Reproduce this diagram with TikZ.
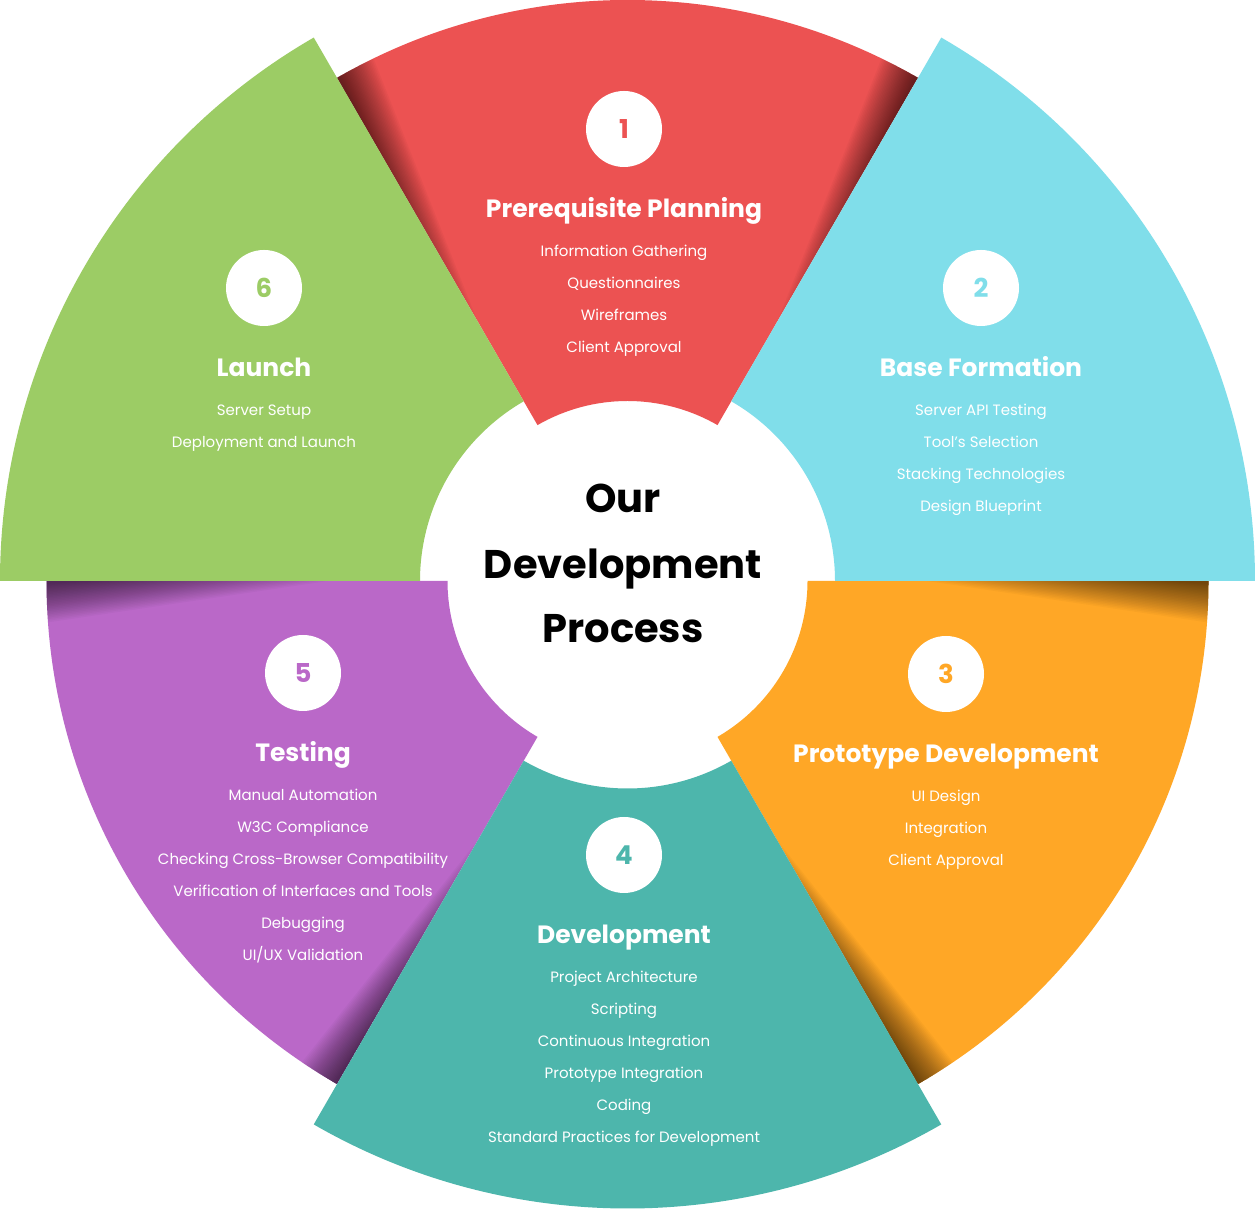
\documentclass[tikz,border=0pt]{standalone}
\usepackage{fontspec}
\setmainfont{Poppins}
\usetikzlibrary{calc}
\definecolor{cred}{HTML}{EC5252}
\definecolor{ccyan}{HTML}{80DEEA}
\definecolor{corange}{HTML}{FFA726}
\definecolor{cteal}{HTML}{4DB6AC}
\definecolor{cpurple}{HTML}{BA68C8}
\definecolor{cgreen}{HTML}{9CCC65}
\tikzset{
  numcirc/.style={circle, fill=white, minimum size=76pt, inner sep=0pt, font=\bfseries\fontsize{26}{30}\selectfont},
  ttl/.style={anchor=base, text=white, inner sep=0pt, font=\bfseries\fontsize{25}{30}\selectfont},
  itm/.style={anchor=base, text=white, inner sep=0pt, font=\fontsize{15}{18}\selectfont},
  ctr/.style={anchor=base, text=black, inner sep=0pt, font=\bfseries\fontsize{40}{46}\selectfont},
}
\newcommand\edgeshade[2]{%
  \foreach \k in {1,...,26}{%
    \pgfmathsetmacro\ra{290+9.5*\k}%
    \pgfmathsetmacro\wk{46-1.6*\k}%
    \fill[black, opacity=0.026] ($(C)+(#1:\ra pt)$) -- ($(C)+(#1:600pt)$) -- ($(C)+(#1:600pt)+(#2:\wk pt)$) -- cycle;
  }}
\newcommand\bigsector[2]{%
  \pgfmathsetmacro\aE{#2+60}%
  \fill[#1] ($(C)+(#2:207.5pt)$) -- ($(C)+(#2:627.5pt)$) arc[start angle=#2, end angle=\aE, radius=627.5pt] -- ($(C)+(\aE:207.5pt)$) arc[start angle=\aE, end angle=#2, radius=207.5pt] -- cycle;}
\newcommand\smallsector[2]{%
  \pgfmathsetmacro\aE{#2+60}%
  \pgfmathsetmacro\pA{#2+90}%
  \pgfmathsetmacro\pB{#2-30}%
  \fill[#1] ($(C)+(#2:180pt)$) -- ($(C)+(#2:581pt)$) arc[start angle=#2, end angle=\aE, radius=581pt] -- ($(C)+(\aE:180pt)$) arc[start angle=\aE, end angle=#2, radius=180pt] -- cycle;
  \begin{scope}
    \clip ($(C)+(#2:180pt)$) -- ($(C)+(#2:581pt)$) arc[start angle=#2, end angle=\aE, radius=581pt] -- ($(C)+(\aE:180pt)$) arc[start angle=\aE, end angle=#2, radius=180pt] -- cycle;
    \edgeshade{#2}{\pA}
    \edgeshade{\aE}{\pB}
  \end{scope}}
\newcommand\stage[7]{%
  \node[numcirc, text=#2] (#1n) at (#3,#4) {#5};
  \node[ttl] (#1t) at (#3,#4-89) {#6};
  \foreach \txt [count=\i] in {#7}{%
    \node[itm] (#1i\i) at (#3,{#4-128-32*(\i-1)}) {\txt};
  }}
\begin{document}
\begin{tikzpicture}[x=1pt,y=1pt]
\useasboundingbox (0,0) rectangle (1255,1209);
\fill[white] (0,0) rectangle (1255,1209);
\coordinate (C) at (627.5,628);
% sectors
\smallsector{cred}{60}
\smallsector{corange}{-60}
\smallsector{cpurple}{180}
\bigsector{ccyan}{0}
\bigsector{cteal}{-120}
\bigsector{cgreen}{120}
% stages
\stage{s1}{cred}{624}{1080}{1}{Prerequisite Planning}{Information Gathering,Questionnaires,Wireframes,Client Approval}
\stage{s2}{ccyan}{981}{921}{2}{Base Formation}{Server API Testing,Tool’s Selection,Stacking Technologies,Design Blueprint}
\stage{s3}{corange}{946}{535}{3}{Prototype Development}{UI Design,Integration,Client Approval}
\stage{s4}{cteal}{624}{354}{4}{Development}{Project Architecture,Scripting,Continuous Integration,Prototype Integration,Coding,Standard Practices for Development}
\stage{s5}{cpurple}{303}{536}{5}{Testing}{Manual Automation,W3C Compliance,Checking Cross-Browser Compatibility,Verification of Interfaces and Tools,Debugging,UI/UX Validation}
\stage{s6}{cgreen}{264}{921}{6}{Launch}{Server Setup,Deployment and Launch}
% centre
\node[ctr] (c1) at (623,696) {Our};
\node[ctr] (c2) at (623,630) {Development};
\node[ctr] (c3) at (623,566) {Process};
\end{tikzpicture}
\end{document}
